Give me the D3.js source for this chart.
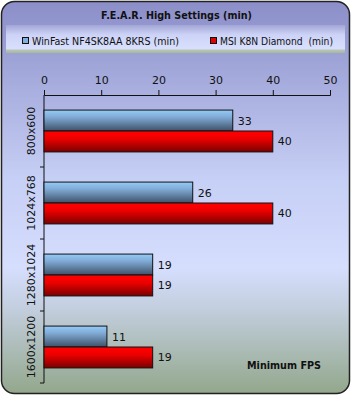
<!DOCTYPE html>
<html>
<head>
<meta charset="utf-8">
<script src="https://cdn.jsdelivr.net/npm/d3@7"></script>
<style>
  body { margin: 0; background: #fff; }
  text { font-family: Verdana, "DejaVu Sans", sans-serif; }
</style>
</head>
<body>
<div id="chart"></div>
<script>
// chart data
const categories = ["800x600", "1024x768", "1280x1024", "1600x1200"];
const seriesNames = ["WinFast NF4SK8AA 8KRS (min)", "MSI K8N Diamond  (min)"];
const winfast = [33, 26, 19, 11];
const msi = [40, 40, 19, 19];
const xTicks = [0, 10, 20, 30, 40, 50];

const width = 351;
const height = 395;
const marginTop = 95;
const marginLeft = 44;
const marginRight = 21;
const marginBottom = 12;

const svg = d3.select("#chart")
  .append("svg")
    .attr("width", width)
    .attr("height", height)
    .attr("viewBox", [0, 0, width, height]);

const defs = svg.append("defs");

// background gradient (purple top, pale middle, greenish bottom)
const bg = defs.append("linearGradient").attr("id", "bg")
  .attr("x1", 0).attr("y1", 0).attr("x2", 0).attr("y2", 1);
[[0, "#8b8ec8"], [0.45, "#c6cff5"], [0.68, "#d5defd"], [0.78, "#c3cfdf"], [1, "#93a78c"]]
  .forEach(([o, c]) => bg.append("stop").attr("offset", o).attr("stop-color", c));

const lg = defs.append("linearGradient").attr("id", "legbg")
  .attr("x1", 0).attr("y1", 0).attr("x2", 0).attr("y2", 1);
[[0, "#a2a6d6"], [0.35, "#cdd3f7"], [0.85, "#d9e0fd"], [0.9, "#b7c4b6"], [1, "#a7b89a"]]
  .forEach(([o, c]) => lg.append("stop").attr("offset", o).attr("stop-color", c));

const gBlue = defs.append("linearGradient").attr("id", "gblue")
  .attr("x1", 0).attr("y1", 0).attr("x2", 0).attr("y2", 1);
[[0, "#94cbfb"], [0.35, "#7fa9d2"], [1, "#3d5169"]]
  .forEach(([o, c]) => gBlue.append("stop").attr("offset", o).attr("stop-color", c));

const gRed = defs.append("linearGradient").attr("id", "gred")
  .attr("x1", 0).attr("y1", 0).attr("x2", 0).attr("y2", 1);
[[0, "#ff0000"], [0.35, "#f00000"], [1, "#7a0000"]]
  .forEach(([o, c]) => gRed.append("stop").attr("offset", o).attr("stop-color", c));

// frame
svg.append("rect")
  .attr("x", 1.5).attr("y", 1.5)
  .attr("width", width - 3).attr("height", height - 3)
  .attr("rx", 13)
  .attr("fill", "url(#bg)")
  .attr("stroke", "#222")
  .attr("stroke-width", 1.5);

// title
svg.append("text")
  .attr("x", 101).attr("y", 19)
  .attr("font-size", 10.5)
  .attr("font-weight", "bold")
  .attr("fill", "#111")
  .attr("textLength", 151)
  .attr("lengthAdjust", "spacingAndGlyphs")
  .text("F.E.A.R. High Settings (min)");

// legend band
svg.append("rect")
  .attr("x", 6).attr("y", 25)
  .attr("width", width - 12).attr("height", 28)
  .attr("fill", "url(#legbg)");

const legendX = [22, 210];
const legendLen = [147, 113];
const legendColors = ["#7fb0dc", "#e00000"];
seriesNames.forEach((name, i) => {
  svg.append("rect")
    .attr("x", legendX[i] + 0.5).attr("y", 37.5)
    .attr("width", 6).attr("height", 6)
    .attr("fill", legendColors[i])
    .attr("stroke", "#111");
  svg.append("text")
    .attr("x", legendX[i] + 10).attr("y", 45)
    .attr("font-size", 10)
    .attr("fill", "#111")
    .attr("textLength", legendLen[i])
    .attr("lengthAdjust", "spacingAndGlyphs")
    .style("white-space", "pre")
    .text(name);
});

// scales
const x = d3.scaleLinear()
  .domain([0, 50])
  .range([marginLeft, width - marginRight]);

const y = d3.scaleBand()
  .domain(categories)
  .range([marginTop, height - marginBottom])
  .paddingInner(0)
  .paddingOuter(0);

const inner = d3.scaleBand()
  .domain([0, 1])
  .range([0, y.bandwidth()])
  .paddingInner(0)
  .paddingOuter(0.72);

// x axis on top
svg.append("g")
  .attr("transform", `translate(0,${marginTop})`)
  .call(d3.axisTop(x).tickValues(xTicks).tickSizeOuter(5).tickSize(5).tickPadding(6))
  .call(g => g.select(".domain").attr("stroke", "#111"))
  .call(g => g.selectAll(".tick line").attr("stroke", "#111"))
  .call(g => g.selectAll(".tick text")
    .attr("font-size", 11)
    .attr("fill", "#111")
    .attr("font-family", "Verdana, 'DejaVu Sans', sans-serif"));

// y axis
const yAxis = svg.append("g")
  .attr("transform", `translate(${marginLeft},0)`);
yAxis.append("line")
  .attr("x1", 0).attr("x2", 0)
  .attr("y1", marginTop).attr("y2", height - marginBottom)
  .attr("stroke", "#111");
yAxis.selectAll(".tk")
  .data(categories)
  .join("line")
    .attr("x1", -4).attr("x2", 0)
    .attr("y1", d => y(d) + y.bandwidth())
    .attr("y2", d => y(d) + y.bandwidth())
    .attr("stroke", "#111");
yAxis.selectAll("text")
  .data(categories)
  .join("text")
    .attr("transform", d => `translate(-9,${y(d) + y.bandwidth() / 2}) rotate(-90)`)
    .attr("text-anchor", "middle")
    .attr("font-size", 11)
    .attr("fill", "#111")
    .text(d => d);

// bars
const rows = [];
categories.forEach((c, i) => {
  rows.push({ cat: c, s: 0, v: winfast[i] });
  rows.push({ cat: c, s: 1, v: msi[i] });
});

svg.append("g")
  .selectAll("rect")
  .data(rows)
  .join("rect")
    .attr("x", x(0))
    .attr("y", d => y(d.cat) + inner(d.s))
    .attr("width", d => x(d.v) - x(0))
    .attr("height", inner.bandwidth())
    .attr("fill", d => d.s === 0 ? "url(#gblue)" : "url(#gred)")
    .attr("stroke", "#111")
    .attr("stroke-width", 1);

svg.append("g")
  .selectAll("text")
  .data(rows)
  .join("text")
    .attr("x", d => x(d.v) + 5)
    .attr("y", d => y(d.cat) + inner(d.s) + inner.bandwidth() / 2 + 4)
    .attr("font-size", 11)
    .attr("fill", "#111")
    .text(d => d.v);

// axis caption
svg.append("text")
  .attr("x", 247).attr("y", 369)
  .attr("font-size", 10)
  .attr("font-weight", "bold")
  .attr("fill", "#111")
  .attr("textLength", 74)
  .attr("lengthAdjust", "spacingAndGlyphs")
  .text("Minimum FPS");
</script>
</body>
</html>
